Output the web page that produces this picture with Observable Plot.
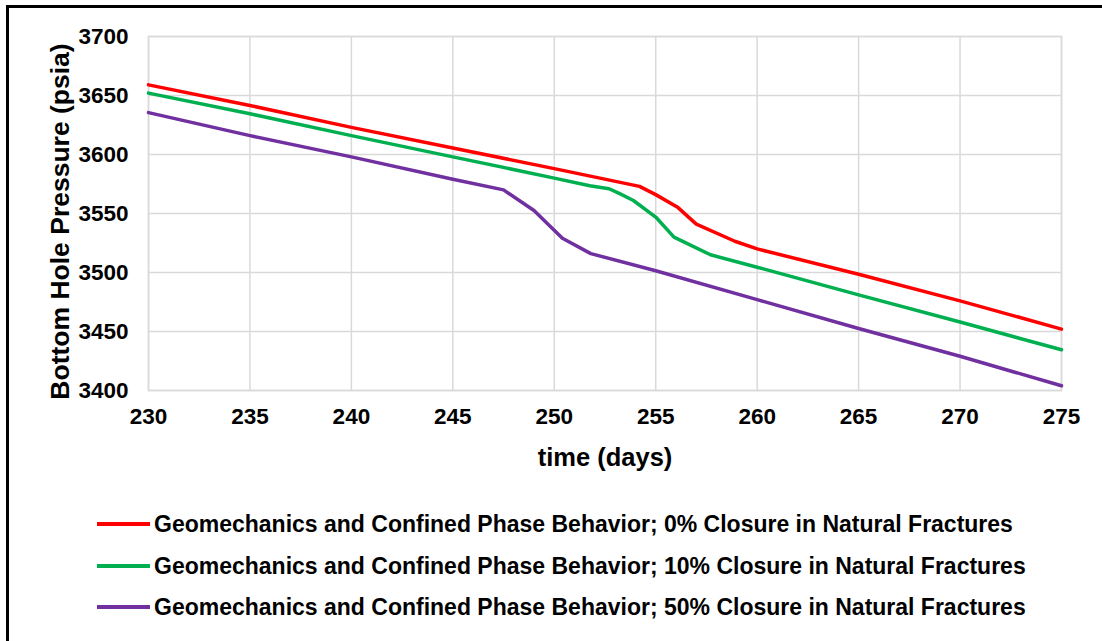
<!DOCTYPE html>
<html>
<head>
<meta charset="utf-8">
<script src="https://cdn.jsdelivr.net/npm/d3@7"></script>
<script src="https://cdn.jsdelivr.net/npm/@observablehq/plot@0.6"></script>
<style>
  html, body { margin: 0; padding: 0; background: #fff; }
  #wrap { position: relative; width: 1102px; height: 641px; overflow: hidden; background: #fff;
          font-family: "Liberation Sans", Arial, sans-serif; }
  #border { position: absolute; left: 6px; top: 5px; width: 1300px; height: 900px;
            border: 3px solid #000; box-sizing: border-box; }
  #chart { position: absolute; left: 0; top: 0; }
  .leg { position: absolute; left: 97px; height: 30px; display: flex; align-items: center;
         font-size: 23px; font-weight: bold; color: #000; white-space: nowrap; }
  .sw { display: inline-block; width: 53px; height: 4px; margin-right: 4px; }
</style>
</head>
<body>
<div id="wrap">
  <div id="border"></div>
  <div id="chart"></div>
  <div id="legend"></div>
</div>
<script>
// ---- data ----
const seriesNames = [
  "Geomechanics and Confined Phase Behavior; 0% Closure in Natural Fractures",
  "Geomechanics and Confined Phase Behavior; 10% Closure in Natural Fractures",
  "Geomechanics and Confined Phase Behavior; 50% Closure in Natural Fractures"
];
const seriesColors = ["#ff0000", "#00b050", "#7030a0"];

const days0 =  [230, 235, 240, 245, 250, 254.2, 255, 256.1, 257, 258.9, 260, 265, 270, 275];
const bhp0 =   [3659, 3641.5, 3623, 3605.5, 3588, 3573, 3566, 3555, 3541, 3526.5, 3520, 3498.5, 3476, 3452];

const days10 = [230, 235, 240, 245, 250, 251.75, 252.7, 253.2, 253.9, 255, 255.9, 257.7, 260, 265, 270, 275];
const bhp10 =  [3652, 3634.5, 3616, 3598, 3580, 3573.5, 3571, 3567, 3561, 3547, 3530, 3515, 3504.5, 3481, 3458, 3434.5];

const days50 = [230, 235, 240, 245, 247.5, 249, 250.4, 251.8, 255, 260, 265, 270, 272.7, 275];
const bhp50 =  [3635.5, 3616, 3598, 3579, 3570, 3552.5, 3529, 3516, 3501.5, 3477, 3452.5, 3429, 3415.5, 3404];

const xTicks = [230, 235, 240, 245, 250, 255, 260, 265, 270, 275];
const yTicks = [3400, 3450, 3500, 3550, 3600, 3650, 3700];

const yTitle = "Bottom Hole Pressure (psia)";
const xTitle = "time (days)";

// ---- build table ----
const allDays = [days0, days10, days50];
const allBhp = [bhp0, bhp10, bhp50];
const rows = [];
allDays.forEach((ds, i) => ds.forEach((d, j) => rows.push({series: seriesNames[i], day: d, bhp: allBhp[i][j]})));

const font = "'Liberation Sans', Arial, sans-serif";

const chart = Plot.plot({
  width: 1102,
  height: 480,
  marginLeft: 148,
  marginRight: 41,
  marginTop: 36,
  marginBottom: 90,
  style: {fontFamily: font, fontSize: "22.5px", fontWeight: "bold", color: "#000", background: "transparent", overflow: "visible"},
  x: {domain: [230, 275]},
  y: {domain: [3400, 3700]},
  color: {domain: seriesNames, range: seriesColors},
  marks: [
    Plot.gridX(xTicks, {stroke: "#d9d9d9", strokeOpacity: 1, strokeWidth: 1.5}),
    Plot.gridY(yTicks, {stroke: "#d9d9d9", strokeOpacity: 1, strokeWidth: 1.5}),
    Plot.frame({stroke: "#d9d9d9", strokeWidth: 1.5}),
    Plot.axisX(xTicks, {tickSize: 0, tickPadding: 18, tickFormat: d => String(d), fill: "#000", label: null}),
    Plot.axisY(yTicks, {tickSize: 0, tickPadding: 20, tickFormat: d => String(d), fill: "#000", label: null}),
    Plot.line(rows, {x: "day", y: "bhp", z: "series", stroke: "series", strokeWidth: 3.5, curve: "linear"}),
    Plot.text([yTitle], {frameAnchor: "left", textAnchor: "middle", lineAnchor: "middle", dx: -88, dy: 8, rotate: -90, fontSize: 26.5, fontWeight: "bold", fill: "#000", text: d => d}),
    Plot.text([xTitle], {frameAnchor: "bottom", textAnchor: "middle", lineAnchor: "middle", dy: 67, fontSize: 25.5, fontWeight: "bold", fill: "#000", text: d => d})
  ]
});
document.getElementById("chart").appendChild(chart);

// ---- legend ----
const legendTops = [509, 551, 592];
const legend = document.getElementById("legend");
seriesNames.forEach((name, i) => {
  const row = document.createElement("div");
  row.className = "leg";
  row.style.top = legendTops[i] + "px";
  const sw = document.createElement("span");
  sw.className = "sw";
  sw.style.background = seriesColors[i];
  row.appendChild(sw);
  row.appendChild(document.createTextNode(name));
  legend.appendChild(row);
});
</script>
</body>
</html>
